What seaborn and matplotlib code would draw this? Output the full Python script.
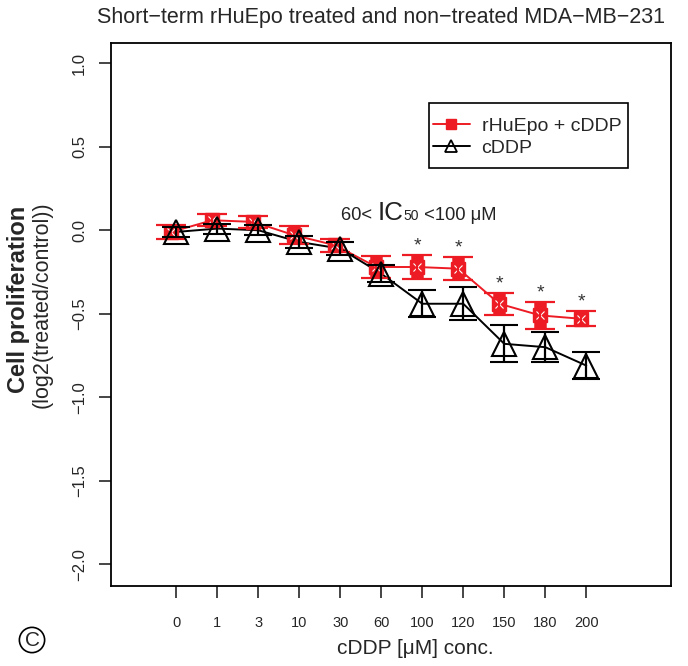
import numpy as np
import pandas as pd
import matplotlib
matplotlib.use("Agg")
import matplotlib.pyplot as plt
from matplotlib.offsetbox import TextArea, HPacker, AnchoredOffsetbox
from matplotlib.lines import Line2D
from matplotlib.patches import Rectangle
import seaborn as sns

# values
conc = ["0", "1", "3", "10", "30", "60", "100", "120", "150", "180", "200"]
epo_mean = [-0.01, 0.06, 0.05, -0.03, -0.09, -0.22, -0.22, -0.23, -0.44, -0.51, -0.53]
epo_err = [0.04, 0.035, 0.035, 0.055, 0.04, 0.065, 0.07, 0.07, 0.065, 0.08, 0.045]
cddp_mean = [-0.01, 0.01, 0.0, -0.07, -0.11, -0.26, -0.44, -0.44, -0.68, -0.70, -0.81]
cddp_err = [0.03, 0.03, 0.03, 0.035, 0.04, 0.05, 0.08, 0.10, 0.11, 0.09, 0.08]
signif = [False, False, False, False, False, False, True, True, True, True, True]

RED = "#ed1c24"
W, H = 688, 666

sns.set_style("ticks")
plt.rcParams["font.family"] = ["Liberation Sans", "DejaVu Sans"]

fig = plt.figure(figsize=(W / 100, H / 100), dpi=100)
ax = fig.add_axes([110.7 / W, 1 - 586 / H, 560 / W, (586 - 42.7) / H])

pos = np.arange(len(conc))
red_x = pos - 0.12

#lines
sns.lineplot(x=red_x, y=epo_mean, color=RED, lw=1.4, ax=ax)
sns.lineplot(x=pos, y=cddp_mean, color="black", lw=1.4, ax=ax)

#red: thick bar body + square, thin caps
ax.errorbar(red_x, epo_mean, yerr=epo_err, fmt="s", color=RED, ms=10,
            capsize=10.5, elinewidth=9, capthick=1.6, zorder=3)
ax.plot(red_x, epo_mean, "x", color="white", ms=6, mew=0.8, zorder=3.5)
ax.errorbar(red_x, epo_mean, yerr=epo_err, fmt="none", ecolor=RED,
            elinewidth=1.6, zorder=3.6)

#black open triangles
ax.errorbar(pos, cddp_mean, yerr=cddp_err, fmt="^", color="black",
            mfc="none", mec="black", ms=17, mew=1.5,
            capsize=10, elinewidth=1.6, capthick=1.6, zorder=4)

#significance stars
for x, m, e, s in zip(red_x, epo_mean, epo_err, signif):
    if s:
        ax.text(x, m + e + 0.055, "*", ha="center", va="center",
                fontsize=14, color="#333333")

ax.set_xlim(-1.6, 12.06)
ax.set_ylim(-2.13, 1.123)
ax.set_xticks(pos, conc)
ax.set_yticks(np.arange(-2.0, 1.01, 0.5))
ax.tick_params(axis="x", length=8.6, width=1.2, pad=13, labelsize=10.5)
ax.tick_params(axis="y", length=9, width=1.2, pad=8, labelsize=12,
               labelrotation=90)
for lab in ax.get_yticklabels():
    lab.set_va("center")
for sp in ax.spines.values():
    sp.set_linewidth(1.3)
    sp.set_color("black")

#legend (frame drawn separately so the padding matches)
handles = [
    Line2D([], [], color=RED, lw=1.4, marker="s", ms=6.5),
    Line2D([], [], color="black", lw=1.4, marker="^", mfc="none", ms=8, mew=1.3),
]
leg = ax.legend(handles, ["rHuEpo + cDDP", "cDDP"], loc="center left",
                bbox_to_anchor=(433 / W, 1 - 137 / H),
                bbox_transform=fig.transFigure,
                fontsize=14, frameon=False,
                handlelength=1.9, handletextpad=0.6, borderpad=0,
                labelspacing=0.2, borderaxespad=0)
fig.patches.append(Rectangle((429 / W, 1 - 168 / H), 199 / W, 65 / H,
                             transform=fig.transFigure, fill=False,
                             ec="black", lw=1.2))

#IC50 annotation
tc = "#222222"
parts = [
    TextArea("60< ", textprops=dict(fontsize=13.2, color=tc)),
    TextArea("IC", textprops=dict(fontsize=18.7, color=tc)),
    TextArea("50", textprops=dict(fontsize=10, color=tc)),
    TextArea(" <100 μM", textprops=dict(fontsize=13.2, color=tc)),
]
pack = HPacker(children=parts, align="baseline", pad=0, sep=0)
ab = AnchoredOffsetbox(loc="center", child=pack, frameon=False,
                       bbox_to_anchor=(419 / W, 1 - 213 / H),
                       bbox_transform=fig.transFigure, borderpad=0, pad=0)
ax.add_artist(ab)

#titles and labels
fig.text(381 / W, 1 - 17 / H, "Short\u2212term rHuEpo treated and non\u2212treated MDA\u2212MB\u2212231",
         ha="center", va="center", fontsize=15.5)
fig.text(415 / W, 1 - 648 / H, "cDDP [μM] conc.", ha="center", va="center",
         fontsize=15)
fig.text(19 / W, 1 - 299 / H, "Cell proliferation", ha="center", va="center",
         rotation=90, fontsize=17, fontweight="bold")
fig.text(42 / W, 1 - 305 / H, "(log2(treated/control))", ha="center", va="center",
         rotation=90, fontsize=15.5)
fig.text(32 / W, 1 - 640 / H, "C", ha="center", va="center", fontsize=15,
         bbox=dict(boxstyle="circle", fc="none", ec="black", lw=1.2, pad=0.15))

fig.savefig("out.png", dpi=100)
